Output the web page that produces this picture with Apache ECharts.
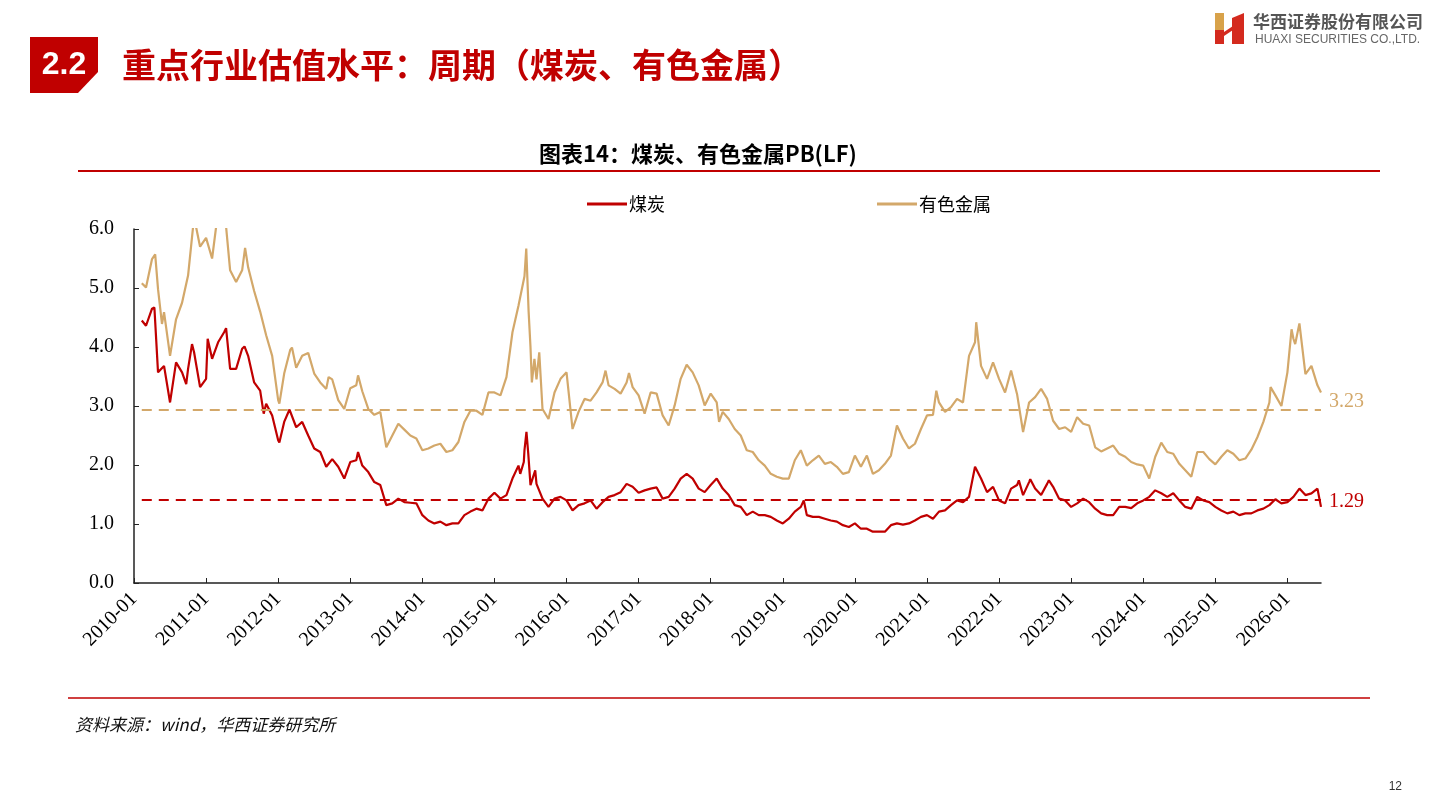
<!DOCTYPE html>
<html>
<head>
<meta charset="utf-8">
<title>煤炭、有色金属PB(LF)</title>
<script src="https://cdn.jsdelivr.net/npm/echarts@6/dist/echarts.min.js"></script>
<style>
  html, body { margin: 0; padding: 0; background: #fff; }
  #chart { width: 1440px; height: 810px; }
</style>
</head>
<body>
<div id="chart"></div>
<script>
// 月度取样：第一个点 2010-02 上旬，之后每月月初，最后一个点 2026-06 中旬
const firstDate = '2010-02-10';
const lastDate = '2026-06-19';

// 煤炭 PB(LF)
const coal = [
  4.45, 4.36, 4.65, 3.57, 3.68, 3.06, 3.74, 3.57, 3.63, 3.91, 3.32,
  3.46, 3.80, 4.08, 4.25, 3.63, 3.63, 3.97, 3.85, 3.40, 3.26, 3.04, 2.84,
  2.42, 2.73, 2.92, 2.64, 2.73, 2.50, 2.28, 2.22, 1.97, 2.10, 1.97, 1.77,
  2.05, 2.08, 1.99, 1.88, 1.71, 1.66, 1.32, 1.35, 1.43, 1.37, 1.36, 1.35,
  1.15, 1.06, 1.01, 1.04, 0.98, 1.01, 1.01, 1.15, 1.21, 1.26, 1.23, 1.43,
  1.53, 1.43, 1.49, 1.77, 1.99, 2.25, 1.66, 1.68, 1.43, 1.29, 1.43, 1.46,
  1.40, 1.23, 1.32, 1.35, 1.40, 1.26, 1.37, 1.46, 1.49, 1.54, 1.68, 1.63,
  1.53, 1.57, 1.60, 1.62, 1.43, 1.46, 1.60, 1.77, 1.85, 1.77, 1.60, 1.54,
  1.66, 1.77, 1.60, 1.49, 1.32, 1.29, 1.15, 1.21, 1.15, 1.15, 1.12, 1.06,
  1.01, 1.09, 1.21, 1.29, 1.15, 1.12, 1.12, 1.09, 1.06, 1.04, 0.98, 0.95,
  1.01, 0.92, 0.92, 0.87, 0.87, 0.87, 0.98, 1.01, 0.99, 1.01, 1.06, 1.12,
  1.15, 1.09, 1.21, 1.23, 1.32, 1.40, 1.37, 1.46, 1.97, 1.77, 1.54, 1.63,
  1.40, 1.35, 1.60, 1.66, 1.49, 1.71, 1.60, 1.49, 1.68, 1.63, 1.43, 1.40,
  1.29, 1.35, 1.43, 1.37, 1.26, 1.18, 1.15, 1.15, 1.29, 1.29, 1.27, 1.35,
  1.40, 1.46, 1.57, 1.52, 1.46, 1.52, 1.40, 1.29, 1.26, 1.46, 1.40, 1.37,
  1.29, 1.23, 1.18, 1.21, 1.15, 1.18, 1.18, 1.23, 1.26, 1.32, 1.42, 1.35,
  1.37, 1.46, 1.60, 1.49, 1.52, 1.60, 1.29
];

// 有色金属 PB(LF)
const metals = [
  5.08, 5.01, 5.49, 4.98, 4.59, 3.85, 4.47, 4.75, 5.21, 6.20, 5.70,
  5.85, 5.50, 6.30, 6.40, 5.30, 5.10, 5.30, 5.35, 4.95, 4.60, 4.20, 3.85,
  3.10, 3.55, 3.95, 3.65, 3.85, 3.90, 3.55, 3.40, 3.29, 3.45, 3.10, 2.95,
  3.30, 3.35, 3.25, 2.95, 2.85, 2.90, 2.30, 2.50, 2.70, 2.60, 2.50, 2.45,
  2.25, 2.28, 2.33, 2.36, 2.22, 2.25, 2.39, 2.73, 2.92, 2.92, 2.85, 3.23,
  3.23, 3.18, 3.49, 4.25, 4.70, 5.20, 4.00, 3.45, 2.95, 2.78, 3.23, 3.46,
  3.57, 2.61, 2.90, 3.12, 3.09, 3.23, 3.40, 3.35, 3.29, 3.21, 3.40, 3.32,
  3.18, 2.87, 3.23, 3.21, 2.84, 2.67, 3.01, 3.46, 3.70, 3.57, 3.35, 3.01,
  3.21, 3.06, 2.90, 2.78, 2.61, 2.50, 2.25, 2.22, 2.08, 1.99, 1.85, 1.80,
  1.77, 1.77, 2.08, 2.25, 1.99, 2.08, 2.16, 2.02, 2.05, 1.97, 1.85, 1.88,
  2.16, 1.97, 2.16, 1.85, 1.91, 2.02, 2.16, 2.67, 2.45, 2.28, 2.36, 2.61,
  2.84, 2.85, 3.06, 2.90, 2.98, 3.12, 3.06, 3.85, 4.08, 3.68, 3.46, 3.74,
  3.46, 3.23, 3.60, 3.20, 2.56, 3.06, 3.15, 3.29, 3.12, 2.75, 2.61, 2.64,
  2.56, 2.81, 2.70, 2.67, 2.30, 2.23, 2.28, 2.33, 2.19, 2.14, 2.05, 2.01,
  1.99, 1.77, 2.14, 2.38, 2.22, 2.19, 2.02, 1.91, 1.80, 2.22, 2.22, 2.10,
  2.01, 2.14, 2.25, 2.19, 2.08, 2.11, 2.26, 2.47, 2.73, 3.06, 3.18, 3.00,
  3.57, 4.14, 4.40, 3.54, 3.68, 3.35, 3.23
];

// 月度取样之间的尖峰/低谷
const coalExtra = [
  ['2010-04-13', 4.67], ['2010-04-23', 4.65], ['2010-09-22', 3.37], ['2010-10-21', 4.05],
  ['2011-01-09', 4.14], ['2011-04-11', 4.32], ['2011-07-13', 4.01], ['2011-10-19', 2.87],
  ['2012-01-07', 2.38], ['2012-02-28', 2.94], ['2013-02-10', 2.22], ['2015-05-10', 1.85],
  ['2015-05-28', 2.05], ['2015-06-11', 2.56], ['2015-06-20', 2.20], ['2015-07-25', 1.91],
  ['2019-04-16', 1.40], ['2021-09-10', 1.98], ['2022-04-10', 1.74], ['2022-06-07', 1.76],
  ['2022-09-10', 1.74], ['2026-03-07', 1.62]
];
const metalsExtra = [
  ['2010-04-17', 5.57], ['2010-05-21', 4.39], ['2011-07-16', 5.68], ['2012-01-07', 3.04],
  ['2012-03-10', 3.99], ['2012-09-13', 3.49], ['2013-02-10', 3.52], ['2015-06-10', 5.67],
  ['2015-06-22', 4.60], ['2015-07-08', 3.40], ['2015-07-21', 3.80], ['2015-08-15', 3.91],
  ['2016-07-16', 3.60], ['2016-11-13', 3.56], ['2018-02-13', 2.73], ['2021-02-18', 3.26],
  ['2021-09-07', 4.42], ['2025-10-07', 3.32], ['2026-01-22', 4.30], ['2026-02-10', 4.05]
];

// 历史均值（虚线）
const coalAvg = 1.41;
const metalsAvg = 2.94;

const yearTicks = [];
for (let y = 2010; y <= 2026; y++) yearTicks.push(y);

// 日期序列
const dates = [firstDate];
for (let m = 2; m <= 197; m++) {
  const y = 2010 + Math.floor(m / 12);
  const mo = (m % 12) + 1;
  dates.push(y + '-' + (mo < 10 ? '0' + mo : mo));
}
dates.push(lastDate);

function toYear(s) {
  const p = s.split('-').map(Number);
  return p[0] + (p[1] - 1) / 12 + (p.length > 2 ? (p[2] - 1) / 365 : 0);
}
function build(vals, extra) {
  const pts = vals.map((v, i) => [toYear(dates[i]), v]);
  extra.forEach(e => pts.push([toYear(e[0]), e[1]]));
  pts.sort((a, b) => a[0] - b[0]);
  return pts;
}

const RED = '#C00000';
const GOLD = '#D3A86A';
const xStart = toYear(firstDate);
const xEnd = toYear(lastDate);

const chart = echarts.init(document.getElementById('chart'));
chart.setOption({
  backgroundColor: '#fff',
  animation: false,
  title: {
    text: '图表14：煤炭、有色金属PB(LF)',
    left: 534,
    top: 138,
    textStyle: { fontFamily: 'Noto Sans CJK SC', fontSize: 22, fontWeight: 'bold', color: '#000' }
  },
  legend: {
    left: 582,
    top: 190,
    itemWidth: 40,
    itemHeight: 3,
    itemGap: 212,
    icon: 'rect',
    textStyle: { fontFamily: 'Noto Sans CJK SC', fontSize: 18, color: '#000', padding: [0, 0, 0, -3] },
    data: ['煤炭', '有色金属']
  },
  grid: { left: 134, right: 119, top: 229, bottom: 227 },
  xAxis: {
    type: 'value',
    min: 2010,
    max: xEnd,
    interval: 1,
    splitLine: { show: false },
    axisLine: { lineStyle: { color: '#222', width: 1.5 } },
    axisTick: { inside: true, length: 5, customValues: yearTicks, lineStyle: { color: '#222' } },
    axisLabel: {
      customValues: yearTicks,
      rotate: 45,
      margin: 13,
      fontFamily: 'Liberation Serif',
      fontSize: 20,
      color: '#000',
      formatter: v => Math.round(v) + '-01'
    }
  },
  yAxis: {
    type: 'value',
    min: 0,
    max: 6,
    interval: 1,
    splitLine: { show: false },
    axisLine: { show: true, lineStyle: { color: '#222', width: 1.5 } },
    axisTick: { show: true, inside: true, length: 5, lineStyle: { color: '#222' } },
    axisLabel: {
      margin: 20,
      fontFamily: 'Liberation Serif',
      fontSize: 20,
      color: '#000',
      formatter: v => v.toFixed(1)
    }
  },
  series: [
    {
      name: '煤炭',
      type: 'line',
      data: build(coal, coalExtra),
      showSymbol: false,
      clip: true,
      z: 3,
      color: RED,
      lineStyle: { color: RED, width: 2.2 },
      endLabel: {
        show: true,
        formatter: p => p.value[1].toFixed(2),
        fontFamily: 'Liberation Serif',
        fontSize: 20,
        color: RED,
        distance: 8,
        offset: [0, -5]
      },
      markLine: {
        symbol: 'none',
        silent: true,
        label: { show: false },
        lineStyle: { color: RED, type: [10, 7], width: 2 },
        data: [[{ coord: [xStart, coalAvg] }, { coord: [xEnd, coalAvg] }]]
      }
    },
    {
      name: '有色金属',
      type: 'line',
      data: build(metals, metalsExtra),
      showSymbol: false,
      clip: true,
      z: 2,
      color: GOLD,
      lineStyle: { color: GOLD, width: 2.2 },
      endLabel: {
        show: true,
        formatter: p => p.value[1].toFixed(2),
        fontFamily: 'Liberation Serif',
        fontSize: 20,
        color: GOLD,
        distance: 8,
        offset: [0, 9]
      },
      markLine: {
        symbol: 'none',
        silent: true,
        label: { show: false },
        lineStyle: { color: GOLD, type: [10, 7], width: 2 },
        data: [[{ coord: [xStart, metalsAvg] }, { coord: [xEnd, metalsAvg] }]]
      }
    }
  ],
  graphic: [
    // 页眉：章节号
    {
      type: 'polygon',
      shape: { points: [[30, 37], [98, 37], [98, 72], [78, 93], [30, 93]] },
      style: { fill: RED }
    },
    {
      type: 'text', x: 64, y: 65,
      style: { text: '2.2', fill: '#fff', font: 'bold 32px "Liberation Sans", Arial', align: 'center', verticalAlign: 'middle' }
    },
    {
      type: 'text', x: 122, y: 65,
      style: {
        text: '重点行业估值水平：周期（煤炭、有色金属）',
        fill: RED,
        font: 'bold 34px "Noto Sans CJK SC"',
        verticalAlign: 'middle'
      }
    },
    // 公司标志
    { type: 'rect', shape: { x: 1215, y: 13, width: 9, height: 17 }, style: { fill: '#D8A24A' } },
    { type: 'rect', shape: { x: 1215, y: 30, width: 9, height: 14 }, style: { fill: '#D42A1E' } },
    { type: 'polygon', shape: { points: [[1224, 32], [1233, 26], [1233, 30], [1224, 36]] }, style: { fill: '#D42A1E' } },
    { type: 'polygon', shape: { points: [[1232, 18], [1244, 13], [1244, 44], [1232, 44]] }, style: { fill: '#D42A1E' } },
    {
      type: 'text', x: 1253, y: 22,
      style: { text: '华西证券股份有限公司', fill: '#555', font: 'bold 17px "Noto Sans CJK SC"', verticalAlign: 'middle' }
    },
    {
      type: 'text', x: 1255, y: 40,
      style: { text: 'HUAXI SECURITIES CO.,LTD.', fill: '#666', font: '12px "Liberation Sans", Arial', verticalAlign: 'middle' }
    },
    // 图表标题下的红线与底部红线
    { type: 'line', shape: { x1: 78, y1: 171, x2: 1380, y2: 171 }, style: { stroke: RED, lineWidth: 2 } },
    { type: 'line', shape: { x1: 68, y1: 698, x2: 1370, y2: 698 }, style: { stroke: RED, lineWidth: 1.5 } },
    {
      type: 'text', x: 75, y: 725,
      style: { text: '资料来源：wind，华西证券研究所', fill: '#111', font: 'italic 17px "Noto Sans CJK SC"', verticalAlign: 'middle' }
    },
    {
      type: 'text', x: 1402, y: 787,
      style: { text: '12', fill: '#333', font: '12px "Liberation Sans", Arial', align: 'right', verticalAlign: 'middle' }
    }
  ]
});
window.addEventListener('resize', function () {
  chart.resize();
});
</script>
</body>
</html>
